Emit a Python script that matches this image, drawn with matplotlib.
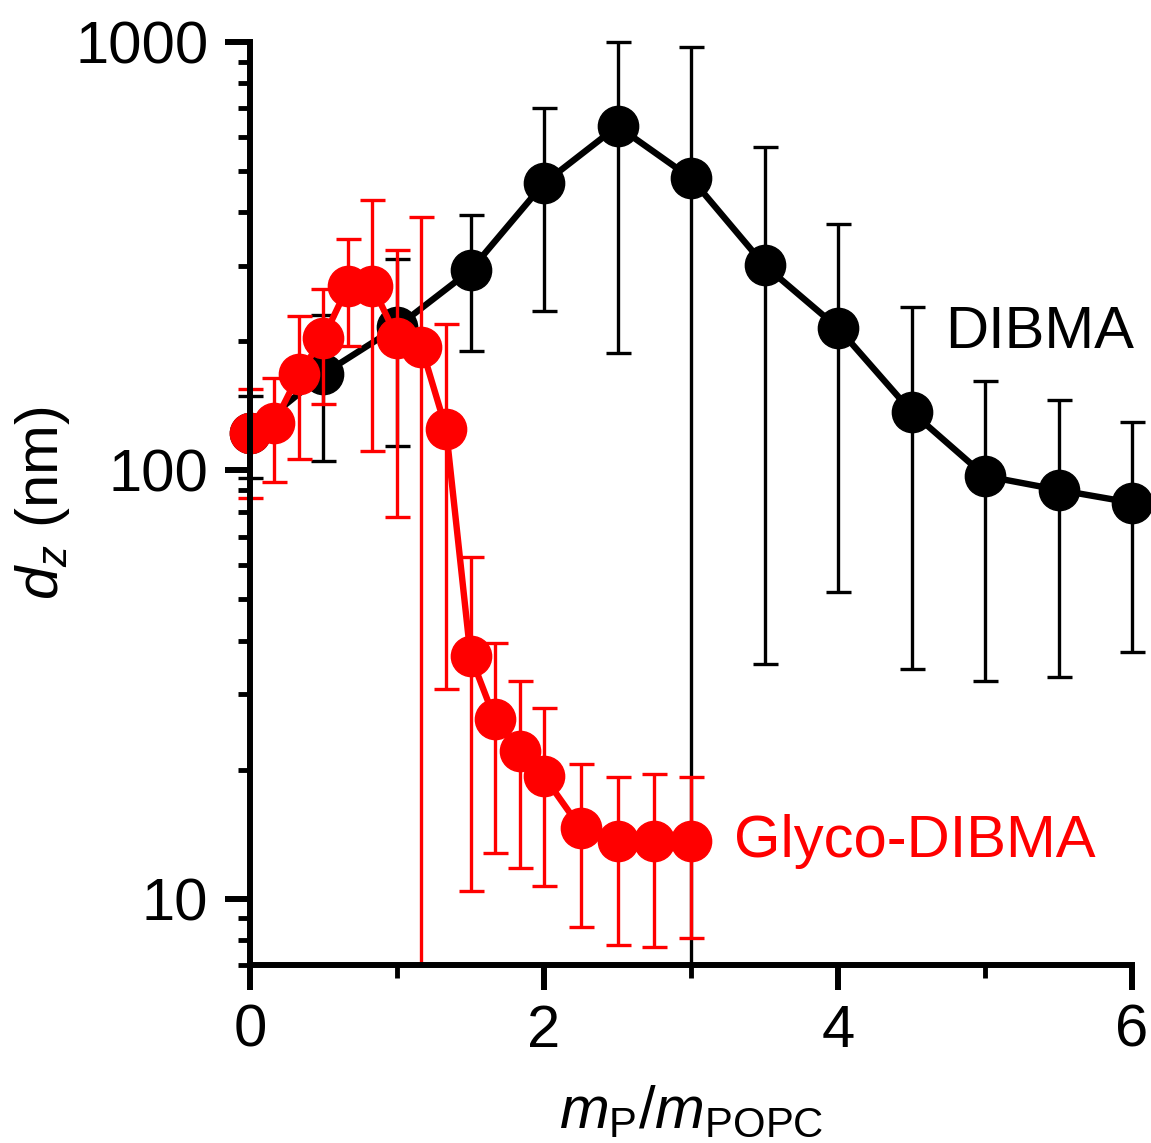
""" d_z versus polymer/lipid mass ratio for DIBMA and Glyco-DIBMA """
import numpy as np
from matplotlib import pyplot as plt
from matplotlib.ticker import LogLocator, NullFormatter, FixedLocator

plt.rcParams['font.family'] = ['Liberation Sans', 'DejaVu Sans']
plt.rcParams['mathtext.fontset'] = 'custom'
plt.rcParams['mathtext.rm'] = 'Liberation Sans'
plt.rcParams['mathtext.it'] = 'Liberation Sans:italic'

# DIBMA
x_dibma = [0, 0.5, 1, 1.5, 2, 2.5, 3, 3.5, 4, 4.5, 5, 5.5, 6]
dz_dibma = [122, 168, 216, 293, 468, 636, 481, 301, 215, 137, 97, 90, 84]
hi_dibma = [149, 230, 311, 394, 700, 1000, 975, 569, 376, 240, 162, 146, 130]
lo_dibma = [96, 105, 114, 190, 235, 188, 7, 35.4, 52, 34.3, 32.3, 33, 37.6]

# Glyco-DIBMA
x_glyco = [0, 1 / 6, 1 / 3, 0.5, 2 / 3, 5 / 6, 1, 7 / 6, 4 / 3, 1.5, 5 / 3, 11 / 6,
           2, 2.25, 2.5, 2.75, 3]
dz_glyco = [122, 129, 168, 204, 269, 269, 204, 194, 125, 36.9, 26.2, 22.1,
            19.3, 14.6, 13.6, 13.6, 13.6]
hi_glyco = [155, 164, 229, 265, 346, 428, 326, 390, 220, 62.9, 39.5, 32.2,
            27.8, 20.6, 19.2, 19.5, 19.2]
lo_glyco = [86, 94, 106, 143, 195, 111, 78, 7, 30.8, 10.4, 12.8, 11.8,
            10.7, 8.6, 7.8, 7.7, 8.1]

y_ticks = [10, 100, 1000]
x_ticks = [0, 2, 4, 6]

fig = plt.figure(figsize=(11.51, 11.43), dpi=100)
ax = fig.add_axes([0.2172, 0.1557, 0.7663, 0.8076])


def draw_series(x, dz, hi, lo, color, z):
    dz = np.array(dz)
    yerr = [dz - np.array(lo), np.array(hi) - dz]
    ax.errorbar(x, dz, yerr=yerr, fmt='none', ecolor=color, elinewidth=2.4,
                capsize=9, capthick=2.4, clip_on=False, zorder=z)
    ax.plot(x, dz, '-o', color=color, lw=4.6, markersize=29, clip_on=False,
            zorder=z + 1)


draw_series(x_dibma, dz_dibma, hi_dibma, lo_dibma, 'black', 2)
draw_series(x_glyco, dz_glyco, hi_glyco, lo_glyco, '#ff0000', 4)

ax.set_yscale('log')
ax.set_ylim(7, 1000)
ax.set_xlim(0, 6)
ax.set_yticks(y_ticks, labels=[str(v) for v in y_ticks])
ax.yaxis.set_minor_locator(LogLocator(base=10, subs=np.arange(2, 10)))
ax.yaxis.set_minor_formatter(NullFormatter())
ax.set_xticks(x_ticks, labels=[str(v) for v in x_ticks])
ax.xaxis.set_minor_locator(FixedLocator([1, 3, 5]))

for side in ('top', 'right'):
    ax.spines[side].set_visible(False)
for side in ('left', 'bottom'):
    ax.spines[side].set_linewidth(4.3)
    ax.spines[side].set_zorder(10)
ax.tick_params(which='major', length=18, width=4.3, labelsize=43)
ax.tick_params(which='minor', length=9, width=3.5)
ax.tick_params(axis='y', which='major', pad=12)
ax.tick_params(axis='x', which='major', pad=10)

ax.set_xlabel(r'$m_{\mathrm{P}}/m_{\mathrm{POPC}}$', fontsize=43, labelpad=18)
ax.set_ylabel(r'$d_z$ (nm)', fontsize=43, labelpad=2)

ax.text(5.37, 210, 'DIBMA', fontsize=43, color='black', ha='center', va='center')
ax.text(3.29, 13.6, 'Glyco-DIBMA', fontsize=43, color='#ff0000', ha='left', va='center')

plt.savefig('out.png', dpi=100)
